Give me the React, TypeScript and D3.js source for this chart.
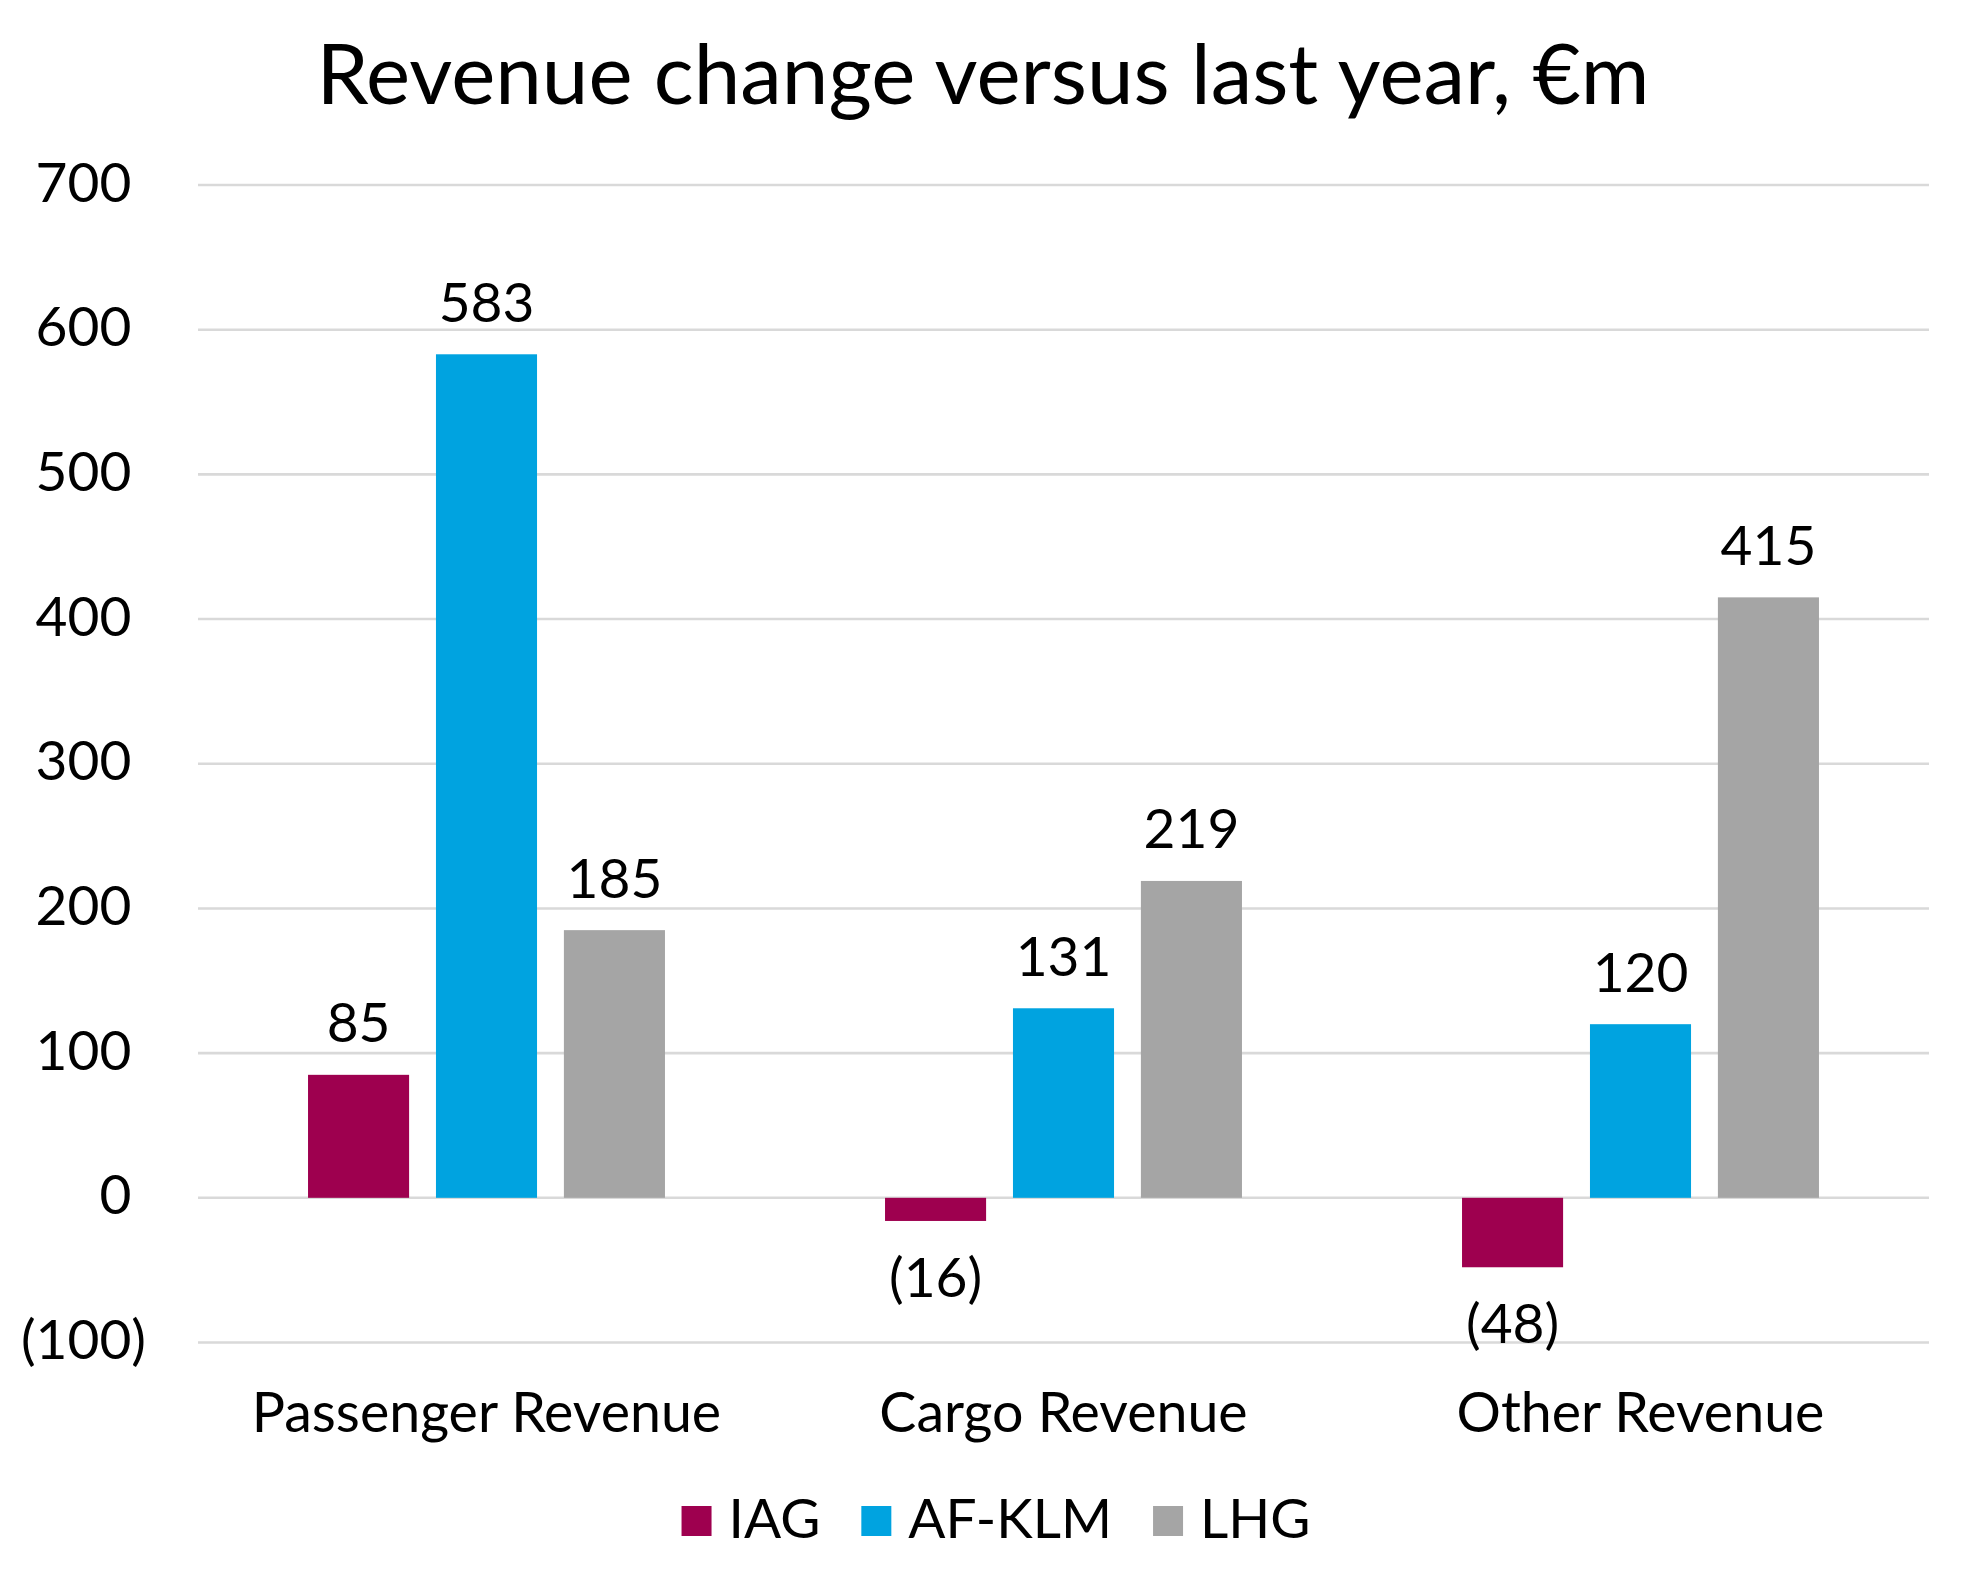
import { useMemo } from "react";
import * as d3 from "d3";

// ── Data ──────────────────────────────────────────────────────
const CATEGORIES = ["Passenger Revenue", "Cargo Revenue", "Other Revenue"];
const SERIES = ["IAG", "AF-KLM", "LHG"];
const IAG = [85, -16, -48];
const AFKLM = [583, 131, 120];
const LHG = [185, 219, 415];
const Y_TICKS = [-100, 0, 100, 200, 300, 400, 500, 600, 700];

const COLORS = ["#9E004F", "#00A3E0", "#A5A5A5"];

// ── Layout ────────────────────────────────────────────────────
const W = 1974;
const H = 1589;
const PLOT = { left: 198, right: 1929, top: 185, bottom: 1342.5 };
const FONT = "Lato, 'Open Sans', sans-serif";
const FS = 55;

const fmt = (v: number) => (v < 0 ? `(${-v})` : `${v}`);

function textWidth(s: string, size: number) {
  const c = document.createElement("canvas").getContext("2d");
  if (!c) return s.length * size * 0.5;
  c.font = `${size}px Lato`;
  return c.measureText(s).width;
}

export default function App() {
  const values = [IAG, AFKLM, LHG];

  const x0 = useMemo(
    () => d3.scaleBand<string>().domain(CATEGORIES).range([PLOT.left, PLOT.right]).padding(0),
    []
  );
  const x1 = useMemo(
    () =>
      d3.scaleBand<string>()
        .domain(SERIES)
        .range([0, x0.bandwidth()])
        .paddingInner(0.21)
        .paddingOuter(0.86),
    [x0]
  );
  const y = useMemo(
    () => d3.scaleLinear().domain([-100, 700]).range([PLOT.bottom, PLOT.top]),
    []
  );

  // legend: measured so the row can be centred like Excel does
  const legend = useMemo(() => {
    const sq = 30;
    const gapText = 17;
    const gapItem = 41;
    const widths = SERIES.map((s) => sq + gapText + textWidth(s, FS));
    const total = d3.sum(widths) + gapItem * (SERIES.length - 1);
    let cx = 996 - total / 2;
    return SERIES.map((s, i) => {
      const item = { name: s, x: cx, color: COLORS[i] };
      cx += widths[i] + gapItem;
      return item;
    });
  }, []);

  return (
    <svg
      width={W}
      height={H}
      style={{ position: "absolute", left: 0, top: 0, display: "block", background: "#fff" }}
      fontFamily={FONT}
    >
      {/* title */}
      <text x={983} y={104} textAnchor="middle" fontSize={83.5} fill="#000">
        Revenue change versus last year, €m
      </text>

      {/* gridlines + y labels */}
      {Y_TICKS.map((t) => (
        <g key={t}>
          <line
            x1={PLOT.left}
            x2={PLOT.right}
            y1={y(t)}
            y2={y(t)}
            stroke="#D9D9D9"
            strokeWidth={2.6}
          />
          <text x={146} y={y(t) + 16.5} textAnchor="end" fontSize={FS} fill="#000">
            {fmt(t)}
            {t >= 0 && <tspan fillOpacity={0}>)</tspan>}
          </text>
        </g>
      ))}

      {/* bars */}
      {CATEGORIES.map((c, ci) => (
        <g key={c} transform={`translate(${x0(c)},0)`}>
          {SERIES.map((s, si) => {
            const v = values[si][ci];
            const top = y(Math.max(0, v));
            const bot = y(Math.min(0, v));
            const bx = x1(s) as number;
            const bw = x1.bandwidth();
            return (
              <g key={s}>
                <rect x={bx} y={top} width={bw} height={bot - top} fill={COLORS[si]} />
                <text
                  x={bx + bw / 2}
                  y={v >= 0 ? top - 32.5 : bot + 76}
                  textAnchor="middle"
                  fontSize={FS}
                  fill="#000"
                >
                  {fmt(v)}
                </text>
              </g>
            );
          })}
        </g>
      ))}

      {/* category labels */}
      {CATEGORIES.map((c) => (
        <text
          key={c}
          x={(x0(c) as number) + x0.bandwidth() / 2}
          y={1432}
          textAnchor="middle"
          fontSize={55.5}
          fill="#000"
        >
          {c}
        </text>
      ))}

      {/* legend */}
      {legend.map((l) => (
        <g key={l.name} transform={`translate(${l.x},0)`}>
          <rect x={0} y={1506} width={30} height={30} fill={l.color} />
          <text x={47} y={1538} fontSize={FS} fill="#000">
            {l.name}
          </text>
        </g>
      ))}
    </svg>
  );
}
